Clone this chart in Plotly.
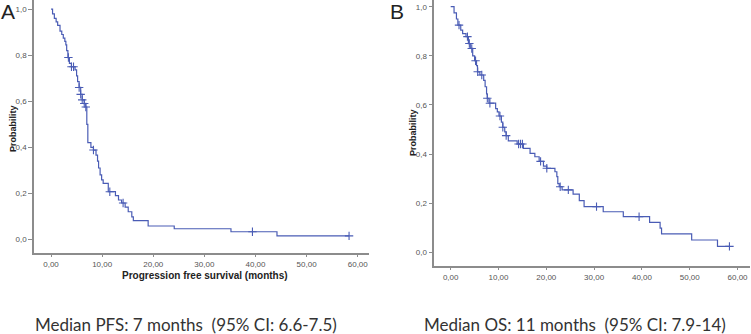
import numpy as np
import plotly.graph_objects as go

# ---- Data ----
pfs_time = [0, 0.3, 0.65, 1.0, 1.3, 1.76, 2.1, 2.4, 2.7, 2.9, 3.06, 3.3, 3.6, 4.0, 4.7,
            5.0, 5.2, 5.5, 5.8, 6.1, 6.5, 6.8, 7.0, 7.2, 7.8, 8.3, 8.8, 9.1, 9.3, 9.6,
            9.9, 10.2, 11.2, 12.6, 13.2, 13.8, 14.5, 15.1, 15.8, 16.1, 19.0, 24.1,
            35.2, 44.2, 58.3]
pfs_surv = [1.0, 0.98, 0.96, 0.945, 0.93, 0.905, 0.89, 0.874, 0.86, 0.845, 0.82, 0.79,
            0.765, 0.75, 0.736, 0.71, 0.685, 0.66, 0.63, 0.606, 0.59, 0.575, 0.50, 0.42,
            0.40, 0.388, 0.366, 0.34, 0.31, 0.28, 0.258, 0.243, 0.207, 0.19, 0.171,
            0.158, 0.14, 0.12, 0.098, 0.081, 0.058, 0.046, 0.033, 0.015, 0.015]
pfs_censor = [3.4, 4.0, 4.4, 5.5, 5.8, 6.1, 6.5, 6.8, 8.3, 11.5, 14.1, 39.4, 58.3]

os_time = [0, 0.7, 1.2, 1.5, 2.1, 2.5, 3.2, 3.7, 4.1, 4.6, 5.0, 5.4, 5.6, 6.1, 6.9,
           7.2, 7.5, 7.66, 8.0, 9.4, 9.75, 10.1, 10.6, 10.9, 11.3, 11.6, 12.05, 13.9,
           15.2, 16.6, 17.6, 18.5, 19.4, 20.1, 21.8, 22.2, 22.4, 22.7, 23.3, 25.6,
           26.9, 27.9, 31.9, 36.1, 41.6, 43.8, 44.1, 50.4, 55.8, 58.3]
os_surv = [1.0, 0.975, 0.95, 0.925, 0.905, 0.89, 0.878, 0.85, 0.83, 0.80, 0.78, 0.76,
           0.735, 0.722, 0.70, 0.674, 0.645, 0.627, 0.607, 0.585, 0.572, 0.555, 0.53,
           0.509, 0.49, 0.475, 0.454, 0.441, 0.423, 0.403, 0.389, 0.37, 0.351, 0.342,
           0.328, 0.308, 0.28, 0.267, 0.254, 0.237, 0.21, 0.186, 0.165, 0.145, 0.122,
           0.098, 0.075, 0.05, 0.024, 0.024]
os_censor = [1.74, 3.5, 3.9, 4.4, 5.2, 5.65, 6.5, 7.66, 8.2, 10.3, 10.9, 11.6, 14.2,
             14.6, 15.0, 18.8, 20.1, 22.9, 24.6, 30.5, 39.4, 58.3]

y_tickvals = [0.0, 0.2, 0.4, 0.6, 0.8, 1.0]
y_ticktext = ["0,0", "0,2", "0,4", "0,6", "0,8", "1,0"]
x_tickvals = [0, 10, 20, 30, 40, 50, 60]
x_ticktext = ["0,00", "10,00", "20,00", "30,00", "40,00", "50,00", "60,00"]

LINE = "#4a5cb5"
AXC = "#8c8c8c"
W, H = 751, 334


def px(x):
    return x / W


def py(y):
    return 1 - y / H


def step_at(times, surv, t):
    idx = np.searchsorted(np.array(times), t, side="right") - 1
    return [surv[i] for i in idx]


fig = go.Figure()
for times, surv, cens, xa, ya in [(pfs_time, pfs_surv, pfs_censor, "x", "y"),
                                  (os_time, os_surv, os_censor, "x2", "y2")]:
    fig.add_trace(go.Scatter(x=times, y=surv, mode="lines", line=dict(color=LINE, width=1.2, shape="hv"),
                             xaxis=xa, yaxis=ya, showlegend=False, hoverinfo="skip"))
    fig.add_trace(go.Scatter(x=cens, y=step_at(times, surv, cens), mode="markers",
                             marker=dict(symbol="cross-thin-open", size=6, color=LINE,
                                         line=dict(color=LINE, width=1.1)),
                             xaxis=xa, yaxis=ya, showlegend=False, hoverinfo="skip"))

tickfont = dict(family="Liberation Sans, Arial", size=8, color="#555555")
common_x = dict(tickvals=x_tickvals, ticktext=x_ticktext, showgrid=False, zeroline=False,
                showline=True, linecolor=AXC, linewidth=1.5, ticks="outside", ticklen=3,
                tickcolor=AXC, tickfont=tickfont)
common_y = dict(tickvals=y_tickvals, ticktext=y_ticktext, showgrid=False, zeroline=False,
                showline=True, linecolor=AXC, linewidth=1.5, ticks="outside", ticklen=4,
                tickcolor=AXC, tickfont=tickfont)

fig.update_layout(
    width=W, height=H, margin=dict(l=0, r=0, t=0, b=0),
    paper_bgcolor="white", plot_bgcolor="white",
    xaxis=dict(domain=[px(34), px(369)], range=[-3.33, 62.2], anchor="y", **common_x),
    yaxis=dict(domain=[py(252.7), 1.0], range=[-0.058, 1.04], anchor="x", **common_y),
    xaxis2=dict(domain=[px(434.3), px(750)], range=[-3.43, 62.6], anchor="y2", **common_x),
    yaxis2=dict(domain=[py(265.7), 1.0], range=[-0.0546, 1.0273], anchor="x2", **common_y),
)

title_font = dict(family="Liberation Sans, Arial", size=9, color="#222222")
ann = [
    dict(text="<b>Probability</b>", x=px(13), y=py(128), textangle=-90, font=title_font),
    dict(text="<b>Probability</b>", x=px(413), y=py(133), textangle=-90, font=title_font),
    dict(text="<b>Progression free survival (months)</b>", x=px(205), y=py(275),
         font=dict(family="Liberation Sans, Arial", size=10, color="#222222")),
    dict(text="A", x=px(8), y=py(12), font=dict(family="Liberation Sans, Arial", size=21, color="#222222")),
    dict(text="B", x=px(397), y=py(12), font=dict(family="Liberation Sans, Arial", size=21, color="#222222")),
    dict(text="Median PFS: 7 months&nbsp;&nbsp;(95% CI: 6.6-7.5)", x=px(186), y=py(324),
         font=dict(family="Lato, Liberation Sans", size=17, color="#333333")),
    dict(text="Median OS: 11 months&nbsp;&nbsp;(95% CI: 7.9-14)", x=px(575), y=py(324),
         font=dict(family="Lato, Liberation Sans", size=17, color="#333333")),
]
for a in ann:
    a.update(xref="paper", yref="paper", showarrow=False, xanchor="center", yanchor="middle")
fig.update_layout(annotations=ann)

fig.write_html("out.html", config={"displayModeBar": False},
               post_script="document.body.style.margin='0';document.body.style.padding='0';"
                           "document.body.style.overflow='hidden';")
